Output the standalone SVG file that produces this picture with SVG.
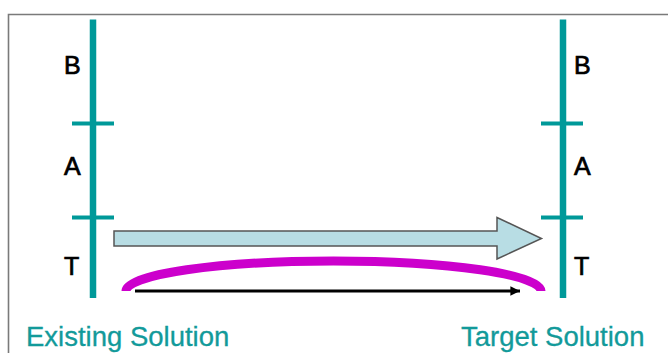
<svg xmlns="http://www.w3.org/2000/svg" width="668" height="353" viewBox="0 0 668 353">
  <defs>
    <style>
      .frame { fill: none; stroke: #7a7a7a; stroke-width: 1.6; }
      .axis { stroke: #009999; stroke-width: 6.5; fill: none; }
      .tick { stroke: #009999; stroke-width: 4; fill: none; }
      .layer { font-family: "Liberation Sans", Arial, sans-serif; font-size: 25px; fill: #000; stroke: #000; stroke-width: 0.7; }
      .caption { font-family: "Liberation Sans", Arial, sans-serif; font-size: 27.5px; fill: #129a9a; stroke: #129a9a; stroke-width: 0.3; }
      .migrate { fill: #b8dde4; stroke: #555; stroke-width: 1.5; stroke-linejoin: miter; }
      .bridge { fill: none; stroke: #cc00cc; stroke-width: 9; }
      .flow { fill: none; stroke: #000; stroke-width: 3; }
    </style>
    <marker id="head" viewBox="0 0 10 10" refX="10" refY="5" markerWidth="4.2" markerHeight="3.2" markerUnits="strokeWidth" orient="auto">
      <path d="M0,0 L10,5 L0,10 Z" fill="#000"/>
    </marker>
  </defs>

  <!-- outer frame (open to the right and bottom) -->
  <path class="frame" d="M8.5,353 V14.5 H668"/>

  <!-- existing solution stack -->
  <g id="existing">
    <line class="axis" x1="93" y1="19.5" x2="93" y2="298"/>
    <line class="tick" x1="72" y1="123.5" x2="114" y2="123.5"/>
    <line class="tick" x1="72" y1="217.5" x2="114" y2="217.5"/>
    <text class="layer" x="64" y="74">B</text>
    <text class="layer" x="64" y="175">A</text>
    <text class="layer" x="64" y="275">T</text>
    <text class="caption" x="26" y="346">Existing Solution</text>
  </g>

  <!-- target solution stack -->
  <g id="target">
    <line class="axis" x1="563" y1="19.5" x2="563" y2="298"/>
    <line class="tick" x1="541" y1="123.5" x2="583" y2="123.5"/>
    <line class="tick" x1="541" y1="217.5" x2="583" y2="217.5"/>
    <text class="layer" x="574" y="74">B</text>
    <text class="layer" x="574" y="175">A</text>
    <text class="layer" x="574" y="275">T</text>
    <text class="caption" x="461" y="346">Target Solution</text>
  </g>

  <!-- connectors -->
  <g id="connectors">
    <path class="migrate" d="M114,231 H497 V217.5 L541.5,238.5 L497,259 V246 H114 Z"/>
    <path class="bridge" d="M126,291 A207.5,30 0 0 1 541,291"/>
    <line class="flow" x1="135" y1="291" x2="520" y2="291" marker-end="url(#head)"/>
  </g>
</svg>
